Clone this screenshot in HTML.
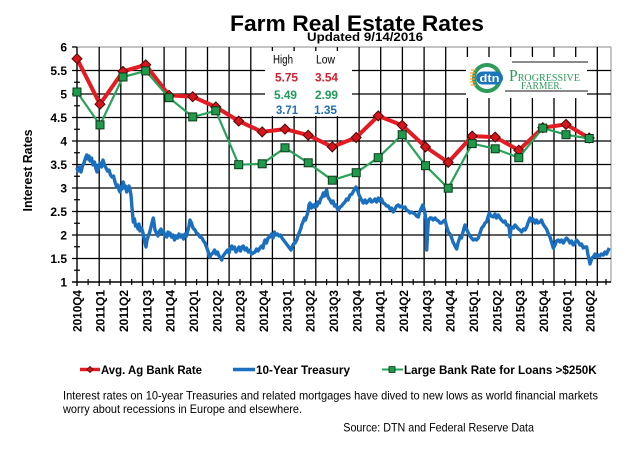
<!DOCTYPE html>
<html><head><meta charset="utf-8"><style>
html,body{margin:0;padding:0;background:#fff;}
svg{display:block;}
text{font-family:"Liberation Sans",Arial,sans-serif;}
</style></head><body>
<svg width="640" height="460" viewBox="0 0 640 460" xmlns="http://www.w3.org/2000/svg">
<rect width="640" height="460" fill="#fff"/>
<!-- Title -->
<text x="230" y="31" font-size="22" font-weight="bold" textLength="254" lengthAdjust="spacingAndGlyphs">Farm Real Estate Rates</text>
<text x="307" y="41" font-size="11.5" font-weight="bold" textLength="116" lengthAdjust="spacingAndGlyphs">Updated  9/14/2016</text>

<!-- plot frame top/right gray -->
<line x1="77" y1="47" x2="611" y2="47" stroke="#a0a0a0" stroke-width="1.2"/>
<line x1="611" y1="47" x2="611" y2="282" stroke="#a0a0a0" stroke-width="1.2"/>

<!-- horizontal grid -->
<g stroke="#000" stroke-width="1.3">
<line x1="72" y1="70.5" x2="611" y2="70.5"/>
<line x1="72" y1="94" x2="611" y2="94"/>
<line x1="72" y1="117.5" x2="611" y2="117.5"/>
<line x1="72" y1="141" x2="611" y2="141"/>
<line x1="72" y1="164.5" x2="611" y2="164.5"/>
<line x1="72" y1="188" x2="611" y2="188"/>
<line x1="72" y1="211.5" x2="611" y2="211.5"/>
<line x1="72" y1="235" x2="611" y2="235"/>
<line x1="72" y1="258.5" x2="611" y2="258.5"/>
<line x1="72" y1="47" x2="77" y2="47"/>
</g>
<!-- vertical grid -->
<g stroke="#000" stroke-width="1.3">
<line x1="99.2" y1="47" x2="99.2" y2="286"/>
<line x1="120.8" y1="47" x2="120.8" y2="286"/>
<line x1="142.5" y1="47" x2="142.5" y2="286"/>
<line x1="164.1" y1="47" x2="164.1" y2="286"/>
<line x1="185.8" y1="47" x2="185.8" y2="286"/>
<line x1="207.5" y1="47" x2="207.5" y2="286"/>
<line x1="229.1" y1="47" x2="229.1" y2="286"/>
<line x1="250.8" y1="47" x2="250.8" y2="286"/>
<line x1="272.4" y1="47" x2="272.4" y2="286"/>
<line x1="294.1" y1="47" x2="294.1" y2="286"/>
<line x1="315.8" y1="47" x2="315.8" y2="286"/>
<line x1="337.4" y1="47" x2="337.4" y2="286"/>
<line x1="359.1" y1="47" x2="359.1" y2="286"/>
<line x1="380.7" y1="47" x2="380.7" y2="286"/>
<line x1="402.4" y1="47" x2="402.4" y2="286"/>
<line x1="424.1" y1="47" x2="424.1" y2="286"/>
<line x1="445.7" y1="47" x2="445.7" y2="286"/>
<line x1="467.4" y1="47" x2="467.4" y2="286"/>
<line x1="489" y1="47" x2="489" y2="286"/>
<line x1="510.7" y1="47" x2="510.7" y2="286"/>
<line x1="532.4" y1="47" x2="532.4" y2="286"/>
<line x1="554" y1="47" x2="554" y2="286"/>
<line x1="575.7" y1="47" x2="575.7" y2="286"/>
<line x1="597.3" y1="47" x2="597.3" y2="286"/>
</g>
<!-- axes -->
<line x1="77" y1="47" x2="77" y2="286" stroke="#000" stroke-width="1.4"/>
<line x1="72" y1="282" x2="611" y2="282" stroke="#000" stroke-width="1.4"/>
<!-- y minor ticks -->
<g stroke="#000" stroke-width="1.2">
<line x1="74" y1="58.75" x2="80" y2="58.75"/>
<line x1="74" y1="82.25" x2="80" y2="82.25"/>
<line x1="74" y1="105.75" x2="80" y2="105.75"/>
<line x1="74" y1="129.25" x2="80" y2="129.25"/>
<line x1="74" y1="152.75" x2="80" y2="152.75"/>
<line x1="74" y1="176.25" x2="80" y2="176.25"/>
<line x1="74" y1="199.75" x2="80" y2="199.75"/>
<line x1="74" y1="223.25" x2="80" y2="223.25"/>
<line x1="74" y1="246.75" x2="80" y2="246.75"/>
<line x1="74" y1="270.25" x2="80" y2="270.25"/>
</g>
<!-- x minor ticks -->
<g stroke="#000" stroke-width="1.2">
<line x1="88.1" y1="279" x2="88.1" y2="285"/>
<line x1="110" y1="279" x2="110" y2="285"/>
<line x1="131.7" y1="279" x2="131.7" y2="285"/>
<line x1="153.3" y1="279" x2="153.3" y2="285"/>
<line x1="175" y1="279" x2="175" y2="285"/>
<line x1="196.6" y1="279" x2="196.6" y2="285"/>
<line x1="218.3" y1="279" x2="218.3" y2="285"/>
<line x1="240" y1="279" x2="240" y2="285"/>
<line x1="261.6" y1="279" x2="261.6" y2="285"/>
<line x1="283.3" y1="279" x2="283.3" y2="285"/>
<line x1="304.9" y1="279" x2="304.9" y2="285"/>
<line x1="326.6" y1="279" x2="326.6" y2="285"/>
<line x1="348.2" y1="279" x2="348.2" y2="285"/>
<line x1="369.9" y1="279" x2="369.9" y2="285"/>
<line x1="391.6" y1="279" x2="391.6" y2="285"/>
<line x1="413.2" y1="279" x2="413.2" y2="285"/>
<line x1="434.9" y1="279" x2="434.9" y2="285"/>
<line x1="456.5" y1="279" x2="456.5" y2="285"/>
<line x1="478.2" y1="279" x2="478.2" y2="285"/>
<line x1="499.9" y1="279" x2="499.9" y2="285"/>
<line x1="521.5" y1="279" x2="521.5" y2="285"/>
<line x1="543.2" y1="279" x2="543.2" y2="285"/>
<line x1="564.8" y1="279" x2="564.8" y2="285"/>
<line x1="586.5" y1="279" x2="586.5" y2="285"/>
<line x1="606" y1="279" x2="606" y2="285"/>
</g>

<!-- y tick labels -->
<g font-size="12" font-weight="bold" text-anchor="end">
<text x="67" y="51.3">6</text>
<text x="67" y="74.8">5.5</text>
<text x="67" y="98.3">5</text>
<text x="67" y="121.8">4.5</text>
<text x="67" y="145.3">4</text>
<text x="67" y="168.8">3.5</text>
<text x="67" y="192.3">3</text>
<text x="67" y="215.8">2.5</text>
<text x="67" y="239.3">2</text>
<text x="67" y="262.8">1.5</text>
<text x="67" y="286.3">1</text>
</g>
<!-- y axis title -->
<text transform="translate(32,170.5) rotate(-90)" font-size="12.5" font-weight="bold" text-anchor="middle" textLength="82" lengthAdjust="spacingAndGlyphs">Interest Rates</text>

<!-- x tick labels -->
<g font-size="12" font-weight="bold" text-anchor="end">
<text transform="translate(81.3,290) rotate(-90)" textLength="42" lengthAdjust="spacingAndGlyphs">2010Q4</text>
<text transform="translate(104.6,290) rotate(-90)" textLength="42" lengthAdjust="spacingAndGlyphs">2011Q1</text>
<text transform="translate(127.9,290) rotate(-90)" textLength="42" lengthAdjust="spacingAndGlyphs">2011Q2</text>
<text transform="translate(151.3,290) rotate(-90)" textLength="42" lengthAdjust="spacingAndGlyphs">2011Q3</text>
<text transform="translate(174.6,290) rotate(-90)" textLength="42" lengthAdjust="spacingAndGlyphs">2011Q4</text>
<text transform="translate(197.9,290) rotate(-90)" textLength="42" lengthAdjust="spacingAndGlyphs">2012Q1</text>
<text transform="translate(221.3,290) rotate(-90)" textLength="42" lengthAdjust="spacingAndGlyphs">2012Q2</text>
<text transform="translate(244.6,290) rotate(-90)" textLength="42" lengthAdjust="spacingAndGlyphs">2012Q3</text>
<text transform="translate(267.9,290) rotate(-90)" textLength="42" lengthAdjust="spacingAndGlyphs">2012Q4</text>
<text transform="translate(291.3,290) rotate(-90)" textLength="42" lengthAdjust="spacingAndGlyphs">2013Q1</text>
<text transform="translate(314.6,290) rotate(-90)" textLength="42" lengthAdjust="spacingAndGlyphs">2013Q2</text>
<text transform="translate(337.9,290) rotate(-90)" textLength="42" lengthAdjust="spacingAndGlyphs">2013Q3</text>
<text transform="translate(361.3,290) rotate(-90)" textLength="42" lengthAdjust="spacingAndGlyphs">2013Q4</text>
<text transform="translate(384.6,290) rotate(-90)" textLength="42" lengthAdjust="spacingAndGlyphs">2014Q1</text>
<text transform="translate(407.9,290) rotate(-90)" textLength="42" lengthAdjust="spacingAndGlyphs">2014Q2</text>
<text transform="translate(431.3,290) rotate(-90)" textLength="42" lengthAdjust="spacingAndGlyphs">2014Q3</text>
<text transform="translate(454.6,290) rotate(-90)" textLength="42" lengthAdjust="spacingAndGlyphs">2014Q4</text>
<text transform="translate(477.9,290) rotate(-90)" textLength="42" lengthAdjust="spacingAndGlyphs">2015Q1</text>
<text transform="translate(501.3,290) rotate(-90)" textLength="42" lengthAdjust="spacingAndGlyphs">2015Q2</text>
<text transform="translate(524.6,290) rotate(-90)" textLength="42" lengthAdjust="spacingAndGlyphs">2015Q3</text>
<text transform="translate(547.9,290) rotate(-90)" textLength="42" lengthAdjust="spacingAndGlyphs">2015Q4</text>
<text transform="translate(571.3,290) rotate(-90)" textLength="42" lengthAdjust="spacingAndGlyphs">2016Q1</text>
<text transform="translate(594.6,290) rotate(-90)" textLength="42" lengthAdjust="spacingAndGlyphs">2016Q2</text>
</g>

<!-- High/Low box -->
<rect x="265" y="51" width="87" height="65" fill="#fff"/>
<g font-size="11.5">
<text x="273" y="63.5" textLength="20" lengthAdjust="spacingAndGlyphs">High</text>
<text x="316" y="63.5" textLength="19" lengthAdjust="spacingAndGlyphs">Low</text>
</g>
<g font-size="12" font-weight="bold">
<text x="275" y="81.5" fill="#d01f2c" textLength="23" lengthAdjust="spacingAndGlyphs">5.75</text>
<text x="315" y="81.5" fill="#d01f2c" textLength="23" lengthAdjust="spacingAndGlyphs">3.54</text>
<text x="274" y="99" fill="#1f9a5a" textLength="23" lengthAdjust="spacingAndGlyphs">5.49</text>
<text x="315" y="99" fill="#1f9a5a" textLength="23" lengthAdjust="spacingAndGlyphs">2.99</text>
<text x="276" y="114" fill="#1f6fb0" textLength="22" lengthAdjust="spacingAndGlyphs">3.71</text>
<text x="314" y="114" fill="#1f6fb0" textLength="23" lengthAdjust="spacingAndGlyphs">1.35</text>
</g>

<!-- Logo -->
<rect x="466" y="57" width="121" height="41" fill="#fff"/>
<circle cx="487" cy="78" r="13" fill="none" stroke="#2e9b5a" stroke-width="4"/>
<g stroke="#f5a030" stroke-width="1.3">
<line x1="471" y1="70" x2="476" y2="70"/>
<line x1="470" y1="73" x2="475" y2="73"/>
<line x1="470" y1="76" x2="475" y2="76"/>
<line x1="470" y1="79" x2="475" y2="79"/>
<line x1="470" y1="82" x2="475" y2="82"/>
<line x1="471" y1="85" x2="476" y2="85"/>
</g>
<rect x="476" y="71.5" width="27" height="13" rx="6.5" fill="#1b75bc"/>
<text x="489.5" y="82" font-size="11" font-weight="bold" fill="#fff" text-anchor="middle" textLength="20" lengthAdjust="spacingAndGlyphs">dtn</text>
<line x1="512" y1="62" x2="588" y2="62" stroke="#444" stroke-width="1.2"/>
<line x1="505" y1="91" x2="588" y2="91" stroke="#444" stroke-width="1.2"/>
<text x="509" y="81" style="font-family:'Liberation Serif','DejaVu Serif',serif;" fill="#2e9b5a" font-size="11" textLength="71" lengthAdjust="spacingAndGlyphs"><tspan font-size="17">P</tspan>ROGRESSIVE</text>
<text x="521" y="89" style="font-family:'Liberation Serif','DejaVu Serif',serif;" fill="#2e9b5a" font-size="10" textLength="41" lengthAdjust="spacingAndGlyphs">FARMER.</text>

<!-- Treasury line -->
<polyline fill="none" stroke="#1a6fbf" stroke-width="3.4" stroke-linejoin="round" points="76.7,168 78,171 79.5,167 81,172 82.5,166 84,163 85.5,158 86.7,155 88,159 89,156 90,161 91.5,158 93,165 94.5,162 96,169 97,172 98.5,166 100,163 101.5,167 103,160 104.5,165 106,168 107.5,171 109,170 110.5,175 112,177 113.5,176 115,182 116.7,187 118,185 119,190 120,192 121,187 122,189 123.3,182 124.5,188 125.5,186 126.7,192 128,188 129,186 130,190 131,195 132,208 133.3,222 134.5,219 135.5,226 136.7,225 138,229 139,224 140,231 141.5,228 143,233 144,238 145,243 146,247 147,240 148.3,236 149.5,233 151,227 152.2,222 153.3,218 154.2,224 155,230 156.5,233 158,236 159.5,231 161,229 162,233 163.5,231 165,236 166.7,237 168,232 169,235 170,233 171.5,237 173,235 174.5,240 176,236 177.5,238 179,234 180.5,237 182,235 183.5,239 185,234 186.5,236 188,230 189,226 190,220 191.5,223 193,228 195,230 196.5,233 198,234 200,237 202,238 203.5,241 205,243 206.5,247 208.3,252 209,256 210,257 211.5,254 213,253 214.5,250 216,254 217.5,252 219,256 220.5,258 221.7,260 223,256 224.5,254 226,252 227.5,250 229,253 230.5,248 231.7,246 233,249 234.5,247 236,252 237.5,250 239,247 240.5,251 242,247 243.3,246 245,250 246.5,248 248.3,252 250,250 251.5,254 253.3,253 255,252 256.5,249 258,251 260,248 261.5,246 263,248 264,243 265,240 266.5,243 268,238 270,237 271.5,234 273,238 274.5,232 276,235 277.5,234 279,236 280.5,235 282,238 283.5,240 285,242 286.5,244 288,246 289.5,248 291,250 292,247 293.5,244 295,243 296.7,240 298,236 299.5,232 301,228 301.7,225 303,222 304.5,218 305.5,220 306.7,216 308,212 309,205 310,203 311.5,208 313,205 314.5,207 315.5,204 317,206 318,202 319.5,203 320.5,199 322,197 323.3,193 324.5,196 325.5,192 326.7,190 327.5,195 328.5,198 330,200 331.5,203 333,201 334.5,206 336,205 337.5,209 338.3,210 340,207 341.7,206 343,204 345,202 346.5,199 348,200 350,195 352,194 353.5,191 355,189 356,187 357.5,190 359,195 360,197 361.5,200 363.3,203 365,200 366.5,203 368.3,201 370,199 371.5,202 373.3,201 375,199 376.5,202 378.3,198 380,201 381.5,199 383.3,203 385,204 386.5,206 388.3,206 390,209 391.5,208 393.3,212 395,209 396.5,206 398.3,205 400,207 401.5,206 403.3,208 405,207 406.5,210 408.3,211 410,213 411.5,212 413.3,213 415,214 416.5,216 418.3,217 419.5,212 421,209 422.7,205 424,209 425,214 426,220 426.3,236 426.7,250 427.5,235 428.3,221 430,218 431.7,218 433,220 435,218 436.7,220 438.5,221 440,223 441.7,223 443.5,221 445,220 446.5,226 448.3,232 450,234 451.7,238 453,242 454.5,245 456,248 456.7,249 458,243 459,240 460,237 461.5,238 463,232 464,228 465,225 466.5,229 468.3,233 470,236 471.5,238 473.3,240 475,239 476.5,240 478.3,238 480,233 481.7,228 483.5,226 485,223 486.5,222 488,217 489.3,213 491,216 493.3,217 495,214 496.5,218 498.3,215 500,218 501.5,220 503.3,222 505,221 506.5,225 508.3,225 509.3,229 510,237 510.8,230 511.7,227 513.5,228 515,225 516.7,227 518.5,229 520,230 521.7,232 523.5,229 525,230 526.7,227 528,223 530,218 531.5,221 533,219 535,223 536.5,220 538,223 540,222 541.5,220 543,224 545,227 546.5,229 548,233 550,237 551.5,242 553.3,248 555,245 556.5,241 558.3,240 560,242 561.5,240 563.3,243 565,240 566.5,238 568.3,240 570,243 571.5,241 573.3,245 575,243 576.5,240 578.3,242 580,245 581.5,244 583.3,248 585,247 586.7,247 588,255 589,259 590,264 591,261 592,258 593.3,257 595,254 596.5,257 598.3,255 600,256 601.5,254 603.3,255 605,252 606.5,254 608.3,250 609.3,248"/>

<!-- Avg Ag Bank Rate -->
<polyline fill="none" stroke="#e31b23" stroke-width="4" stroke-linejoin="round" points="77,58.7 100,104.2 123,71.4 145.7,64.8 169,95.3 192.7,96.7 215.8,107 238.7,121.1 262.2,131.9 285,129.1 308.2,135.2 332.3,146.9 356.2,137.5 378.2,115.9 402.2,125.3 425.5,146.9 448.2,162.4 472.2,136.1 495.2,137.1 518.8,150.2 542.8,127.7 566,124.4 589.2,138"/>
<g fill="#d7141c" stroke="#4a0505" stroke-width="1">
<path d="M77,53.7 L82,58.7 L77,63.7 L72,58.7Z"/>
<path d="M100,99.2 L105,104.2 L100,109.2 L95,104.2Z"/>
<path d="M123,66.4 L128,71.4 L123,76.4 L118,71.4Z"/>
<path d="M145.7,59.8 L150.7,64.8 L145.7,69.8 L140.7,64.8Z"/>
<path d="M169,90.3 L174,95.3 L169,100.3 L164,95.3Z"/>
<path d="M192.7,91.7 L197.7,96.7 L192.7,101.7 L187.7,96.7Z"/>
<path d="M215.8,102 L220.8,107 L215.8,112 L210.8,107Z"/>
<path d="M238.7,116.1 L243.7,121.1 L238.7,126.1 L233.7,121.1Z"/>
<path d="M262.2,126.9 L267.2,131.9 L262.2,136.9 L257.2,131.9Z"/>
<path d="M285,124.1 L290,129.1 L285,134.1 L280,129.1Z"/>
<path d="M308.2,130.2 L313.2,135.2 L308.2,140.2 L303.2,135.2Z"/>
<path d="M332.3,141.9 L337.3,146.9 L332.3,151.9 L327.3,146.9Z"/>
<path d="M356.2,132.5 L361.2,137.5 L356.2,142.5 L351.2,137.5Z"/>
<path d="M378.2,110.9 L383.2,115.9 L378.2,120.9 L373.2,115.9Z"/>
<path d="M402.2,120.3 L407.2,125.3 L402.2,130.3 L397.2,125.3Z"/>
<path d="M425.5,141.9 L430.5,146.9 L425.5,151.9 L420.5,146.9Z"/>
<path d="M448.2,157.4 L453.2,162.4 L448.2,167.4 L443.2,162.4Z"/>
<path d="M472.2,131.1 L477.2,136.1 L472.2,141.1 L467.2,136.1Z"/>
<path d="M495.2,132.1 L500.2,137.1 L495.2,142.1 L490.2,137.1Z"/>
<path d="M518.8,145.2 L523.8,150.2 L518.8,155.2 L513.8,150.2Z"/>
<path d="M542.8,122.7 L547.8,127.7 L542.8,132.7 L537.8,127.7Z"/>
<path d="M566,119.4 L571,124.4 L566,129.4 L561,124.4Z"/>
<path d="M589.2,133 L594.2,138 L589.2,143 L584.2,138Z"/>
</g>

<!-- Large Bank Rate -->
<polyline fill="none" stroke="#2aa35a" stroke-width="2.2" stroke-linejoin="round" points="77,92 100,124.9 123,77 145.7,70.9 169,97.7 192.7,116.9 215.8,110.8 238.7,164.7 262.2,163.8 285,147.8 308.2,162.8 332.3,180.2 356.2,172.7 378.2,157.7 402.2,134.7 425.5,165.7 448.2,188.2 472.2,143.6 495.2,148.8 518.8,157.7 542.8,128.1 566,134.7 589.2,138.5"/>
<g fill="#1f9a4c" stroke="#0b3a1a" stroke-width="1">
<rect x="73" y="88" width="8" height="8"/>
<rect x="96" y="120.9" width="8" height="8"/>
<rect x="119" y="73" width="8" height="8"/>
<rect x="141.7" y="66.9" width="8" height="8"/>
<rect x="165" y="93.7" width="8" height="8"/>
<rect x="188.7" y="112.9" width="8" height="8"/>
<rect x="211.8" y="106.8" width="8" height="8"/>
<rect x="234.7" y="160.7" width="8" height="8"/>
<rect x="258.2" y="159.8" width="8" height="8"/>
<rect x="281" y="143.8" width="8" height="8"/>
<rect x="304.2" y="158.8" width="8" height="8"/>
<rect x="328.3" y="176.2" width="8" height="8"/>
<rect x="352.2" y="168.7" width="8" height="8"/>
<rect x="374.2" y="153.7" width="8" height="8"/>
<rect x="398.2" y="130.7" width="8" height="8"/>
<rect x="421.5" y="161.7" width="8" height="8"/>
<rect x="444.2" y="184.2" width="8" height="8"/>
<rect x="468.2" y="139.6" width="8" height="8"/>
<rect x="491.2" y="144.8" width="8" height="8"/>
<rect x="514.8" y="153.7" width="8" height="8"/>
<rect x="538.8" y="124.1" width="8" height="8"/>
<rect x="562" y="130.7" width="8" height="8"/>
<rect x="585.2" y="134.5" width="8" height="8"/>
</g>

<!-- Legend -->
<line x1="80" y1="369.5" x2="100" y2="369.5" stroke="#e31b23" stroke-width="3.5"/>
<path d="M90,366.5 L93,369.5 L90,372.5 L87,369.5Z" fill="#d7141c" stroke="#4a0505" stroke-width="0.8"/>
<text x="101" y="373.8" font-size="12" font-weight="bold" textLength="101" lengthAdjust="spacingAndGlyphs">Avg. Ag Bank Rate</text>
<line x1="233" y1="369.5" x2="255" y2="369.5" stroke="#1a6fbf" stroke-width="3.5"/>
<text x="256" y="373.8" font-size="12" font-weight="bold" textLength="94" lengthAdjust="spacingAndGlyphs">10-Year Treasury</text>
<line x1="382" y1="369.5" x2="403" y2="369.5" stroke="#2aa35a" stroke-width="2"/>
<rect x="389" y="366.5" width="6" height="6" fill="#1f9a4c" stroke="#0b3a1a" stroke-width="0.8"/>
<text x="404" y="373.8" font-size="12" font-weight="bold" textLength="192.7" lengthAdjust="spacingAndGlyphs">Large Bank Rate for Loans &gt;$250K</text>

<!-- Notes -->
<text x="63" y="399.5" font-size="12" textLength="535" lengthAdjust="spacingAndGlyphs">Interest rates on  10-year Treasuries  and related mortgages have dived to new lows  as world financial markets</text>
<text x="63" y="413" font-size="12" textLength="239" lengthAdjust="spacingAndGlyphs">worry about recessions in  Europe and elsewhere.</text>
<text x="343.3" y="431.5" font-size="12" textLength="190.7" lengthAdjust="spacingAndGlyphs">Source: DTN  and Federal Reserve Data</text>
</svg>
</body></html>
